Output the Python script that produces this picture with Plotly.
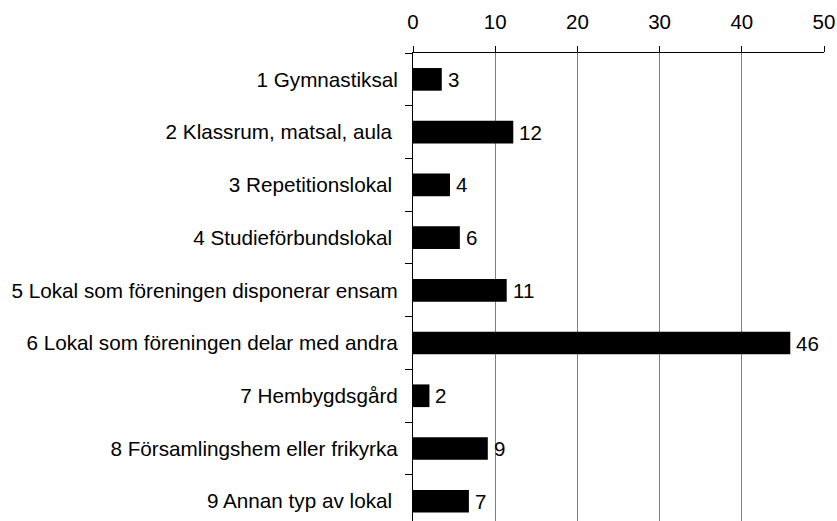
import plotly.graph_objects as go

categories = [
    "1 Gymnastiksal",
    "2 Klassrum, matsal, aula\u00a0",
    "3 Repetitionslokal\u00a0",
    "4 Studieförbundslokal\u00a0",
    "5 Lokal som föreningen disponerar ensam",
    "6 Lokal som föreningen delar med andra",
    "7 Hembygdsgård",
    "8 Församlingshem eller frikyrka",
    "9 Annan typ av lokal\u00a0",
]
values = [3.5, 12.2, 4.5, 5.7, 11.4, 45.9, 2.0, 9.1, 6.8]
value_labels = ["3", "12", "4", "6", "11", "46", "2", "9", "7"]
x_ticks = [0, 10, 20, 30, 40, 50]

FONT = "Liberation Sans, Arial, sans-serif"

fig = go.Figure()
fig.add_trace(go.Bar(
    x=values,
    y=categories,
    orientation="h",
    marker=dict(color="black", line=dict(color="black", width=0)),
    hoverinfo="skip",
))

for v, c, t in zip(values, categories, value_labels):
    fig.add_annotation(
        x=v, y=c, text=t, showarrow=False,
        xanchor="left", yanchor="middle", xshift=4,
        font=dict(family=FONT, size=20.5, color="black"),
    )

fig.update_layout(
    width=837, height=521,
    margin=dict(l=413, r=13, t=53, b=0, pad=0),
    paper_bgcolor="white", plot_bgcolor="white",
    showlegend=False,
    bargap=0.57,
    font=dict(family=FONT, size=20, color="black"),
    xaxis=dict(
        side="top", range=[0, 50], tickvals=x_ticks,
        showgrid=True, gridcolor="#808080", gridwidth=1,
        showline=True, linecolor="black", linewidth=1,
        ticks="outside", ticklen=6, tickcolor="black",
        ticklabelstandoff=9,
        zeroline=False,
        tickfont=dict(family=FONT, size=20.5, color="black"),
    ),
    yaxis=dict(
        range=[8.375, -0.5],
        showgrid=False, showline=True, linecolor="black", linewidth=1,
        ticks="outside", ticklen=7, tickcolor="black", tickson="boundaries",
        ticklabelstandoff=10,
        tickfont=dict(family=FONT, size=20.7, color="black"),
    ),
)

fig.write_html(
    "out.html",
    config={"displayModeBar": False, "staticPlot": True},
    post_script="document.body.style.margin='0';document.body.style.padding='0';",
)
